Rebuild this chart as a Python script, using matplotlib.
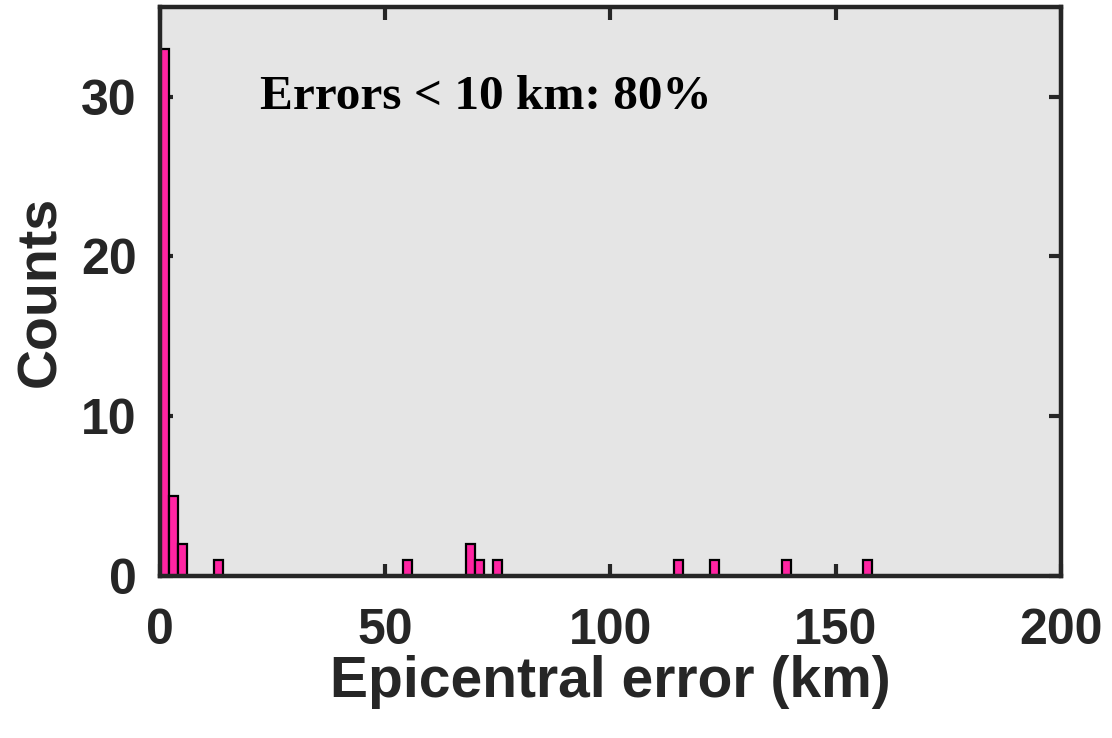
import matplotlib
matplotlib.use("Agg")
import matplotlib.pyplot as plt

# histogram of epicentral errors, 2 km bins (left edge, count)
bin_left = [0, 2, 4, 12, 54, 68, 70, 74, 114, 122, 138, 156]
counts = [33, 5, 2, 1, 1, 2, 1, 1, 1, 1, 1, 1]
bin_width = 2

xticks = [0, 50, 100, 150, 200]
yticks = [0, 10, 20, 30]
note = "Errors < 10 km: 80%"

BAR_COLOR = "#ff24a2"
AX_BG = "#e5e5e5"
TXT = "#262626"

fig = plt.figure(figsize=(11.12, 7.38), dpi=100)
ax = fig.add_axes([0.1439, 0.2195, 0.9541 - 0.1439, 0.9905 - 0.2195])
ax.set_facecolor(AX_BG)

ax.bar(bin_left, counts, width=bin_width, align="edge",
       color=BAR_COLOR, edgecolor="black", linewidth=1.6, zorder=2)

ax.set_xlim(0, 200)
ax.set_ylim(0, 35.6)
ax.set_xticks(xticks)
ax.set_yticks(yticks)

font = {"family": "Liberation Sans", "weight": "bold"}
for lab in ax.get_xticklabels() + ax.get_yticklabels():
    lab.set_fontfamily("Liberation Sans")
    lab.set_fontweight("bold")
    lab.set_fontsize(36)
    lab.set_color(TXT)

ax.tick_params(direction="in", length=9, width=3, colors=TXT,
               top=True, right=True)
ax.tick_params(axis="x", pad=23)
ax.tick_params(axis="y", pad=17)

for sp in ax.spines.values():
    sp.set_linewidth(3.2)
    sp.set_color(TXT)
    sp.set_zorder(3)

ax.set_xlabel("Epicentral error (km)", fontsize=41, color=TXT, labelpad=1, **font)
ax.set_ylabel("Counts", fontsize=40, color=TXT, labelpad=10, **font)

ax.text(22.2, 29.2, note, family="Liberation Serif", weight="bold",
        fontsize=35.5, color="black", va="baseline", ha="left")

fig.savefig("out.png", dpi=100, facecolor="white")
